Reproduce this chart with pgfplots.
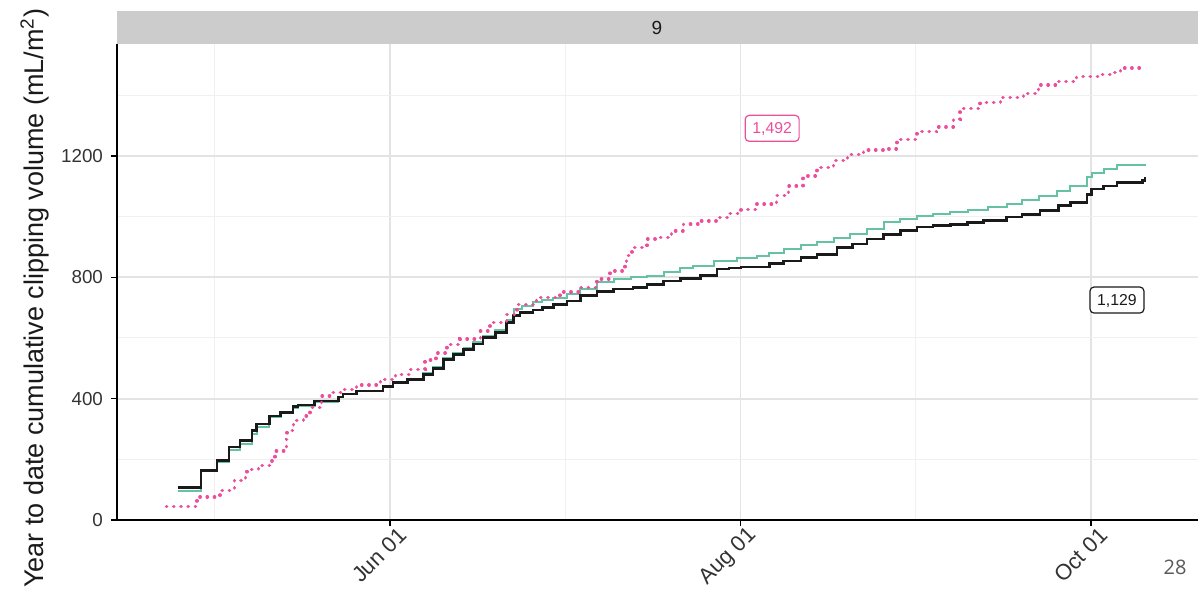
\documentclass[border=0pt]{standalone}
\usepackage{pgfplots}
\pgfplotsset{compat=1.18}
\usepackage{fontspec}
\setmainfont{Liberation Sans}
\newfontfamily\opensans{Open Sans}
\definecolor{cgreen}{HTML}{66C2A5}
\definecolor{cpink}{HTML}{EC4E9C}
\definecolor{cblack}{HTML}{1A1A1A}
\definecolor{gridmaj}{HTML}{E3E3E3}
\definecolor{gridmin}{HTML}{F0F0F0}
\definecolor{stripc}{HTML}{CCCCCC}
\definecolor{ticktext}{HTML}{333333}
\pgfplotstableread{
x y
-36.9 106
-32.9 164
-30.1 197
-28.0 241
-26.1 261
-24.0 294
-23.2 316
-21.0 343
-19.0 354
-16.9 373
-16.0 379
-13.1 392
-9.0 405
-8.2 415
-5.8 425
-1.2 439
0.5 453
3.0 462
5.8 480
7.5 500
9.3 530
11.0 545
12.8 563
14.5 580
16.2 601
18.3 618
20.3 651
21.5 673
22.6 684
24.9 692
26.5 700
28.4 711
30.8 722
33.1 739
36.0 753
38.9 761
42.3 766
44.7 777
47.6 788
50.5 797
54.0 805
56.9 827
59.0 831
61.1 834
66.0 845
68.5 854
71.5 865
74.3 876
77.8 898
80.5 910
83.0 926
85.9 942
88.8 955
91.7 966
94.5 970
97.5 973
100.5 980
103.3 988
107.3 999
110.0 1008
113.1 1019
116.3 1036
118.4 1047
121.3 1074
122.1 1091
124.2 1101
126.5 1112
131.0 1120
131.4 1129
}\blackdata
\pgfplotstableread{
x y
-36.9 96
-32.9 160
-30.1 192
-28.0 232
-26.1 252
-24.0 285
-23.2 308
-21.0 338
-19.0 352
-16.9 370
-16.0 377
-13.1 390
-9.0 405
-8.2 414
-5.8 424
-1.2 440
0.5 455
3.0 465
5.8 483
7.5 505
9.3 535
11.0 550
12.8 568
14.5 586
16.2 606
18.3 625
20.3 660
21.5 695
23.0 705
24.9 717
26.5 725
28.4 733
30.8 745
33.1 761
36.0 783
38.9 794
42.0 800
44.7 805
47.6 817
50.5 830
52.8 838
56.3 854
60.3 865
63.8 870
66.0 880
68.5 893
71.5 905
74.3 915
77.2 928
80.1 942
83.0 960
85.9 981
88.8 993
91.7 1003
94.5 1008
97.5 1014
100.5 1022
104.0 1033
107.3 1043
110.0 1055
113.0 1068
116.0 1085
118.4 1101
121.3 1129
122.1 1145
124.2 1157
126.5 1171
131.4 1173
}\greendata
\pgfplotstableread{
x y
-38.9 44
-33.6 76
-29.6 98
-27.1 131
-25.1 140
-24.9 167
-22.9 180
-20.9 195
-20.0 228
-18.0 266
-17.9 294
-16.8 327
-15.1 343
-13.9 370
-11.9 409
-10.0 420
-8.1 430
-5.8 445
-2.3 453
-1.7 464
1.0 480
3.5 497
6.1 527
8.0 550
9.9 579
12.2 596
15.7 623
17.4 651
20.3 678
22.1 711
25.5 733
29.6 752
33.1 766
36.0 794
38.3 821
40.9 843
41.2 871
42.1 898
44.7 926
47.0 931
49.0 953
51.1 975
54.0 986
56.9 997
59.0 1010
61.1 1023
63.8 1041
67.3 1069
69.1 1076
69.3 1101
71.9 1134
74.3 1162
77.2 1184
79.6 1204
82.4 1219
85.9 1223
88.2 1255
91.7 1280
95.1 1296
98.1 1321
99.2 1356
102.7 1376
106.2 1393
110.2 1406
112.3 1417
112.8 1434
116.0 1446
119.5 1461
123.6 1468
125.3 1475
127.1 1490
131.4 1492
}\pinkdata
\begin{document}
\begin{tikzpicture}
\useasboundingbox (0,0) rectangle (600.5pt,296pt);
\begin{axis}[
  at={(58.5pt,36pt)}, anchor=south west,
  scale only axis, width=540.5pt, height=238pt,
  xmin=-47.5, xmax=140.6, ymin=0, ymax=1569,
  axis x line=bottom, axis y line=left,
  axis line style={-, line width=0.7pt, black},
  xtick={0,61,122}, xticklabels={Jun 01, Aug 01, Oct 01},
  ytick={0,400,800,1200},
  minor xtick={-30.5,30.5,91.5}, minor ytick={200,600,1000,1400},
  grid=both,
  major grid style={gridmaj, line width=0.9pt},
  minor grid style={gridmin, line width=0.5pt},
  tick align=outside, major tick length=3pt, minor tick length=0pt,
  tick style={black, line width=0.7pt},
  xticklabel style={rotate=45, anchor=east, inner sep=0pt, xshift=2.5pt, yshift=-6.5pt, font=\fontsize{11}{12}\selectfont, text=ticktext},
  yticklabel style={xshift=-0.5pt, font=\fontsize{9.4}{11}\selectfont, text=ticktext},
  /pgf/number format/assume math mode=true,
  /pgf/number format/1000 sep={},
  scaled y ticks=false,
  ylabel={Year to date cumulative clipping volume (mL/m\textsuperscript{2})},
  ylabel style={at={(axis description cs:-0.0759,0.466)}, anchor=center, font=\fontsize{13.5}{15}\selectfont, text=cblack},
  clip=false,
]
\addplot[cgreen, line width=1pt, const plot] table[x=x,y=y] {\greendata};
\addplot[cblack, line width=1.35pt, const plot] table[x=x,y=y] {\blackdata};
\addplot[cpink, line width=1.7pt, line cap=round, dash pattern=on 0.2pt off 3.4pt, const plot] table[x=x,y=y] {\pinkdata};
\fill[stripc] (rel axis cs:0,1) rectangle (rel axis cs:1,1.0693);
\node[font=\fontsize{9.5}{11}\selectfont, text=cblack] at (rel axis cs:0.4995,1.0347) {9};
\node[draw=cpink, text=cpink, fill=white, rounded corners=2pt, line width=0.6pt, inner xsep=3.6pt, inner ysep=3.2pt, text height=5.8pt, text depth=0.8pt, font=\fontsize{7.9}{9}\selectfont] at (axis cs:66.5,1291) {1,492};
\node[draw=cblack, text=cblack, fill=white, rounded corners=2pt, line width=0.6pt, inner xsep=3.6pt, inner ysep=3.2pt, text height=5.8pt, text depth=0.8pt, font=\fontsize{7.9}{9}\selectfont] at (axis cs:126.5,725) {1,129};
\end{axis}
\node[font=\opensans\fontsize{10}{12}\selectfont, text=black!65] at (587.5pt,12.5pt) {28};
\end{tikzpicture}
\end{document}
